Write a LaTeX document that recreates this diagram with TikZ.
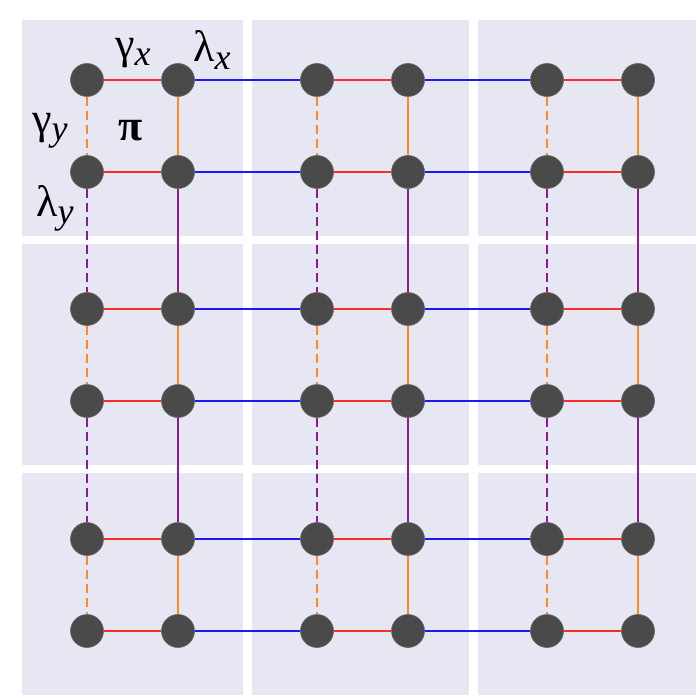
\documentclass[tikz,border=0pt]{standalone}
\usepackage{fontspec}
\setmainfont{Liberation Serif}
\newfontfamily\labfont{Liberation Serif}
\definecolor{bgl}{HTML}{E7E7F3}
\definecolor{nodegray}{HTML}{4A4A4A}
\definecolor{lred}{HTML}{FF2A2A}
\definecolor{lblue}{HTML}{1A1AF5}
\definecolor{lorange}{HTML}{FF8A1E}
\definecolor{lpurple}{HTML}{8A1A96}
\begin{document}
\begin{tikzpicture}[x=1pt,y=-1pt,
  dot/.style={circle,fill=nodegray,minimum size=33pt,inner sep=0pt,draw=nodegray!85!white,line width=0.6pt},
  gx/.style={draw=lred,line width=2.3pt},
  lx/.style={draw=lblue,line width=2.8pt},
  gyS/.style={draw=lorange,line width=2.2pt},
  gyD/.style={gyS,dash pattern=on 9pt off 5pt},
  lyS/.style={draw=lpurple,line width=2.2pt},
  lyD/.style={lyS,dash pattern=on 9pt off 5pt},
  lab/.style={font=\labfont\fontsize{44}{48}\selectfont,inner sep=0pt}]
\useasboundingbox (0,0) rectangle (696,695);
\fill[white] (0,0) rectangle (696,695);
\fill[bgl] (22,20) rectangle (696,695);
\fill[white] (243,20) rectangle (252,695);
\fill[white] (469,20) rectangle (478,695);
\fill[white] (22,236) rectangle (696,244);
\fill[white] (22,465) rectangle (696,473);
\foreach \c/\x in {1/87,2/178,3/317,4/408,5/547,6/638}
  \foreach \r/\y in {1/80,2/172,3/309,4/401,5/539,6/631}
    \node[dot] (n\r\c) at (\x,\y) {};
\foreach \r in {1,...,6} {
  \draw[gx] (n\r1) -- (n\r2);
  \draw[lx] (n\r2) -- (n\r3);
  \draw[gx] (n\r3) -- (n\r4);
  \draw[lx] (n\r4) -- (n\r5);
  \draw[gx] (n\r5) -- (n\r6);
}
\foreach \r/\s/\ss/\sd in {1/2/gyS/gyD,2/3/lyS/lyD,3/4/gyS/gyD,4/5/lyS/lyD,5/6/gyS/gyD} {
  \foreach \c in {1,3,5} \draw[\sd] (n\r\c) -- (n\s\c);
  \foreach \c in {2,4,6} \draw[\ss] (n\r\c) -- (n\s\c);
}
\newcommand{\subx}[1]{\raisebox{-0.16em}{\fontsize{36}{38}\selectfont\itshape #1}}
\node[lab] (lgx) at (133,53) {γ\subx{x}};
\node[lab] (llx) at (212,50) {λ\subx{x}};
\node[lab] (lgy) at (50,131) {γ\subx{y}};
\node[lab] (lpi) at (131,131) {\bfseries π};
\node[lab] (lly) at (55,208) {λ\subx{y}};
\end{tikzpicture}
\end{document}
